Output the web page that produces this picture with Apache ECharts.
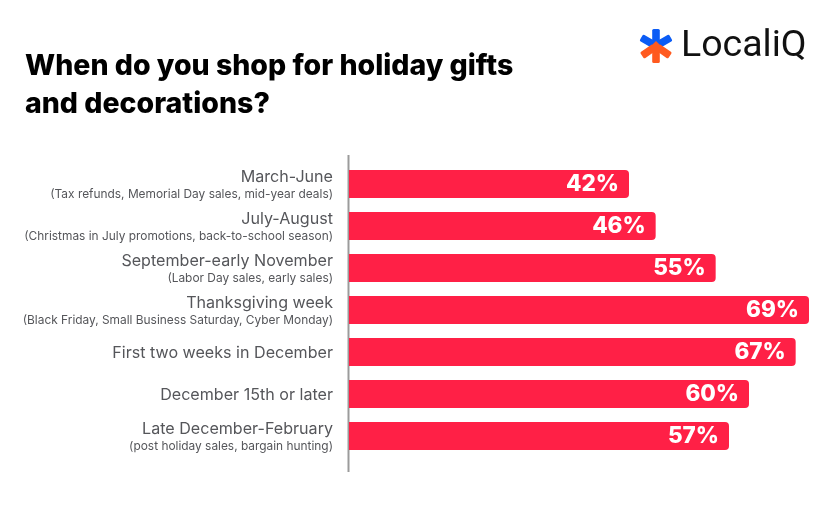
<!DOCTYPE html>
<html><head><meta charset="utf-8">
<style>html,body{margin:0;padding:0;background:#fff}#c{width:834px;height:521px}</style>
<script src="https://cdn.jsdelivr.net/npm/echarts@6/dist/echarts.min.js"></script>
</head><body><div id="c"></div>
<script>
const categories = ["March-June","July-August","September-early November","Thanksgiving week","First two weeks in December","December 15th or later","Late December-February"];
const notes = ["(Tax refunds, Memorial Day sales, mid-year deals)","(Christmas in July promotions, back-to-school season)","(Labor Day sales, early sales)","(Black Friday, Small Business Saturday, Cyber Monday)","","","(post holiday sales, bargain hunting)"];
const values = [42,46,55,69,67,60,57];
const FONT = "Inter";
const chart = echarts.init(document.getElementById('c'), null, {renderer:'canvas'});
const petal = (rot, color) => ({type:'rect', x:656, y:46, rotation:rot*Math.PI/180,
  shape:{x:-3.8,y:-17,width:7.6,height:15,r:1.5}, style:{fill:color}});
chart.setOption({
  animation:false,
  backgroundColor:'#fff',
  textStyle:{fontFamily:FONT},
  title:{text:"When do you shop for holiday gifts\nand decorations?",left:20,top:42,
    textStyle:{fontFamily:FONT,fontSize:28.5,fontWeight:800,color:'#000',lineHeight:38}},
  grid:{left:349,top:163,width:480,height:294},
  xAxis:{type:'value',min:0,max:72,show:false},
  yAxis:{type:'category',inverse:true,data:categories,
    axisLine:{show:false},axisTick:{show:false},
    axisLabel:{margin:16,align:'right',padding:[2,0,0,0],
      formatter:(v,i)=> notes[i] ? `{a|${v}}\n{b|${notes[i]}}` : `{a|${v}}`,
      rich:{a:{fontFamily:FONT,fontSize:16.1,color:'#55565a',lineHeight:19,align:'right'},
            b:{fontFamily:FONT,fontSize:11.9,color:'#55565a',lineHeight:15,align:'right'}}}},
  series:[{type:'bar',data:values,barWidth:28,
    itemStyle:{color:'#FF2046',borderRadius:[0,4,4,0]},
    label:{show:true,position:'insideRight',distance:10,formatter:'{c}%',
      fontFamily:FONT,fontSize:22.5,fontWeight:800,color:'#fff'}}],
  graphic:[
    {type:'line',shape:{x1:348.5,y1:155,x2:348.5,y2:472},style:{stroke:'#9b9b9b',lineWidth:2}},
    petal(0,'#0B5CF5'),petal(60,'#0B5CF5'),petal(-60,'#0B5CF5'),
    petal(125,'#FF5A1F'),petal(180,'#FF5A1F'),petal(-125,'#FF5A1F'),
    {type:'polygon',shape:{points:[[656,41],[667,52],[645,52]]},style:{fill:'#FF5A1F'}},
    {type:'text',x:681,y:28,style:{text:'LocaliQ',fontFamily:'Roboto',fontSize:37.5,fontWeight:400,fill:'#111'}}
  ]
});
</script></body></html>
